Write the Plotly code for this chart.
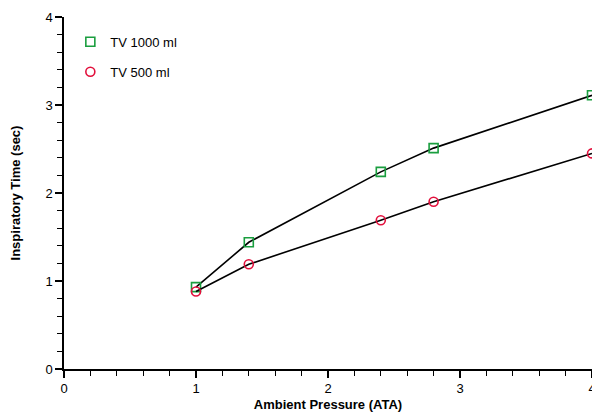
import plotly.graph_objects as go

pressure = [1.0, 1.4, 2.4, 2.8, 4.0]
tv1000 = [0.93, 1.44, 2.24, 2.51, 3.11]
tv500 = [0.88, 1.19, 1.69, 1.90, 2.45]
series_names = ["TV 1000 ml", "TV 500 ml"]
x_ticks = [0, 1, 2, 3, 4]
y_ticks = [0, 1, 2, 3, 4]

green = "#1a9e3f"
red = "#e2103c"

fig = go.Figure()
for vals, name, col, sym in [(tv1000, series_names[0], green, "square-open"),
                             (tv500, series_names[1], red, "circle-open")]:
    fig.add_trace(go.Scatter(x=pressure, y=vals, mode="lines", showlegend=False,
                             line=dict(color="black", width=1.6), cliponaxis=False,
                             hoverinfo="skip"))
    fig.add_trace(go.Scatter(x=pressure, y=vals, mode="markers", name=name, legendgroup=name,
                             marker=dict(symbol=sym, size=9, color=col,
                                         line=dict(color=col, width=1.6)),
                             cliponaxis=False))

axis_common = dict(showgrid=False, zeroline=False, showline=True, linecolor="black",
                   linewidth=1.5, ticks="outside", ticklen=7, tickwidth=1.5, automargin=False,
                   ticklabeloverflow="allow",
                   tickcolor="black", tickfont=dict(family="Liberation Sans", size=13, color="black"),
                   minor=dict(ticks="outside", ticklen=5, tickwidth=1.3, tickcolor="black", dtick=0.2))

fig.update_xaxes(range=[0, 4], tickvals=x_ticks, **axis_common,
                 title=dict(text="<b>Ambient Pressure (ATA)</b>", standoff=6,
                            font=dict(family="Liberation Sans", size=13, color="black")))
fig.update_yaxes(range=[0, 4], tickvals=y_ticks, **axis_common,
                 title=dict(text="<b>Inspiratory Time (sec)</b>", standoff=22,
                            font=dict(family="Liberation Sans", size=13, color="black")))

fig.update_layout(
    width=592, height=412,
    margin=dict(l=64, r=0, t=17, b=43),
    plot_bgcolor="white", paper_bgcolor="white",
    legend=dict(x=0.012, y=0.972, xanchor="left", yanchor="top",
                font=dict(family="Liberation Sans", size=13, color="black"),
                itemwidth=30, tracegroupgap=10, traceorder="grouped",
                bgcolor="rgba(0,0,0,0)"),
)

fig.write_html("out.html", config={"displayModeBar": False},
               post_script="document.body.style.margin='0';")
